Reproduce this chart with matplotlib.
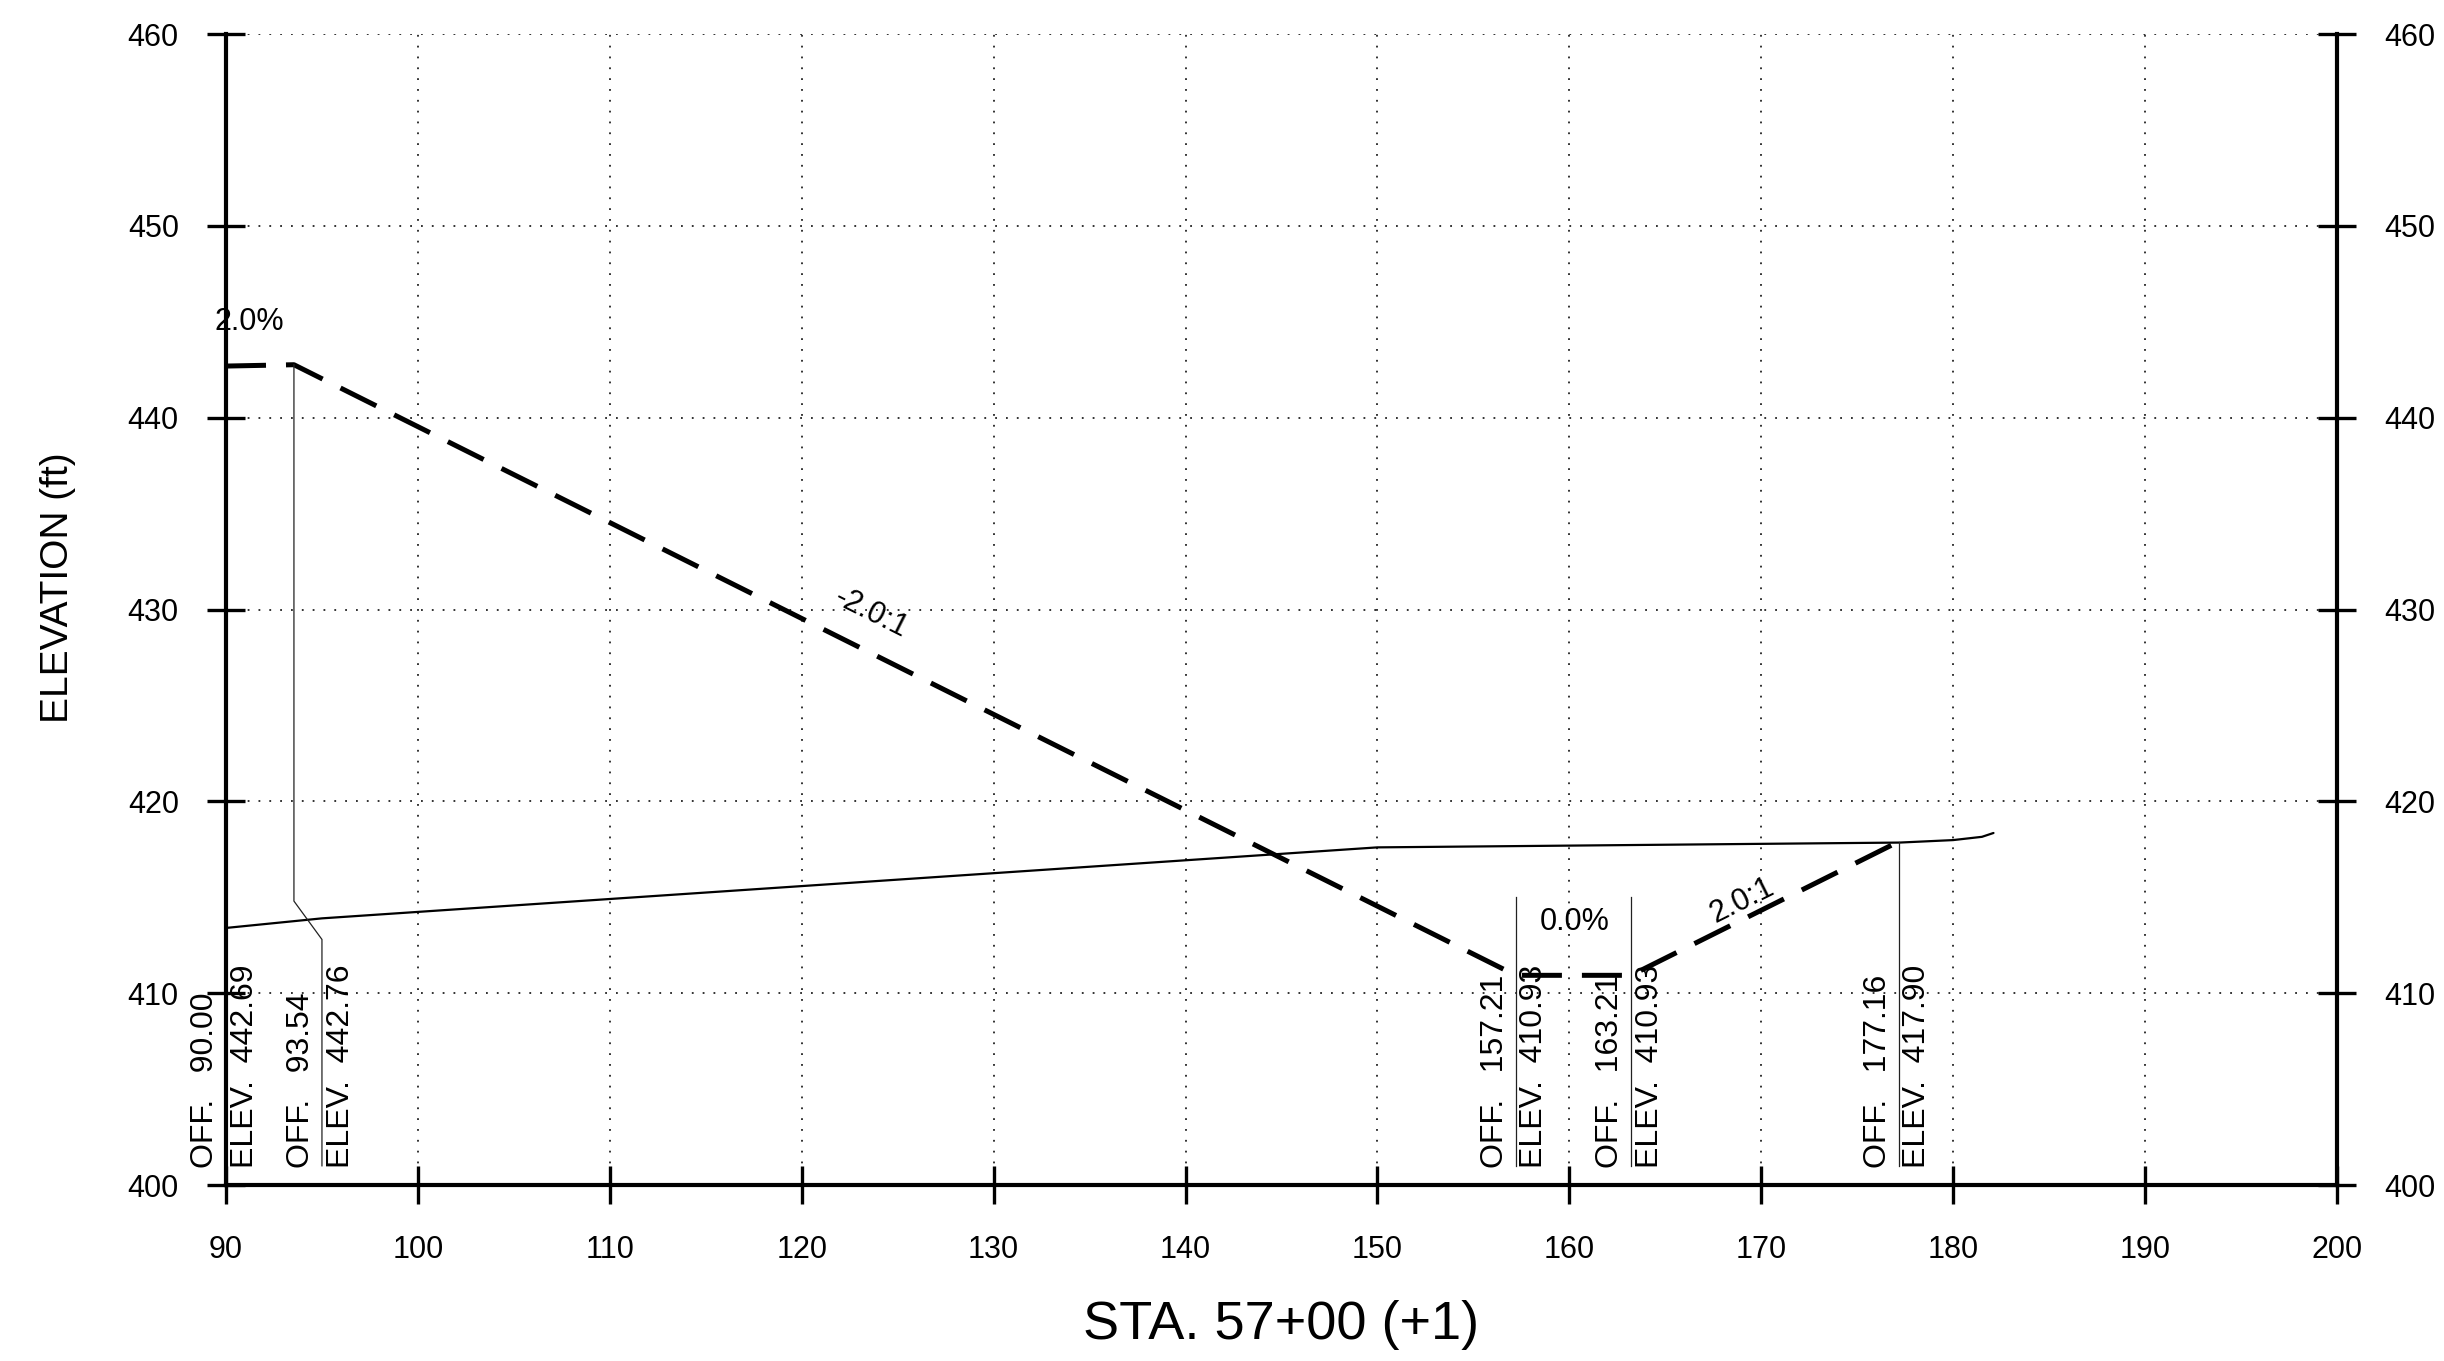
import numpy as np
import matplotlib
matplotlib.use("Agg")
import matplotlib.pyplot as plt

plt.rcParams['font.family'] = ['Liberation Sans', 'DejaVu Sans']

# Existing ground profile
ground_x = [90.0, 95.0, 150.0, 177.2, 180.0, 181.5, 182.1]
ground_y = [413.4, 413.9, 417.6, 417.85, 417.98, 418.15, 418.35]

# Proposed design section (offset, elevation)
design_off = [90.00, 93.54, 157.21, 163.21, 177.16]
design_elev = [442.69, 442.76, 410.93, 410.93, 417.90]

# Slope annotations: (text, x, y, data slope)
slope_text = ["2.0%", "-2.0:1", "0.0%", "2.0:1"]
slope_x = [91.2, 123.6, 160.3, 169.0]
slope_y = [445.0, 429.8, 413.7, 414.8]
slope_s = [0.0, -0.5, 0.0, 0.5]

xticks = list(range(90, 201, 10))
yticks = list(range(400, 461, 10))

fig = plt.figure(figsize=(24.44, 13.61), dpi=100)
ax = fig.add_axes([226/2444, 1-1185/1361, (2337-226)/2444, (1185-34)/1361])
ax.set_xlim(90, 200)
ax.set_ylim(400, 460)
ax.set_xticks(xticks)
ax.set_yticks(yticks)
ax.grid(True, color='#222222', linestyle=(0, (1, 5)), linewidth=1.3)
ax.set_axisbelow(True)

for s in ['left', 'right', 'bottom']:
    ax.spines[s].set_linewidth(3.0)
ax.spines['top'].set_visible(False)

ax.tick_params(axis='both', direction='inout', length=28, width=2.4, labelsize=22)
ax.tick_params(axis='x', pad=22)
ax.tick_params(axis='y', pad=20, right=True, labelright=True)

# ground line
ax.plot(ground_x, ground_y, color='black', linewidth=1.6, solid_capstyle='round')
# design line
ax.plot(design_off, design_elev, color='black', linewidth=3.6, linestyle=(0, (8, 4)))

# leader lines
lc = '#222222'
lw = 0.9
ax.plot([design_off[1], design_off[1], 95.0, 95.0],
        [design_elev[1], 414.8, 412.8, 401.0], color=lc, linewidth=lw)
ax.plot([design_off[2]] * 2, [415.0, 401.0], color=lc, linewidth=lw)
ax.plot([design_off[3]] * 2, [415.0, 401.0], color=lc, linewidth=lw)
ax.plot([design_off[4]] * 2, [design_elev[4], 401.0], color=lc, linewidth=lw)

label_pos = [90.0, 95.0, design_off[2], design_off[3], design_off[4]]
for xp, off, el in zip(label_pos, design_off, design_elev):
    ax.text(xp - 1.1, 400.9, f"OFF.   {off:.2f}", rotation=90, ha='center', va='bottom',
            fontsize=23)
    ax.text(xp + 0.97, 400.9, f"ELEV.  {el:.2f}", rotation=90, ha='center', va='bottom',
            fontsize=23)

for t, x, y, s in zip(slope_text, slope_x, slope_y, slope_s):
    ang = np.degrees(np.arctan(s))
    rot = ax.transData.transform_angles(np.array([ang]), np.array([[x, y]]))[0]
    ax.text(x, y, t, rotation=rot, rotation_mode='anchor', ha='center', va='center', fontsize=22)

fig.text(1281/2444, 1-1325/1361, "STA. 57+00 (+1)", ha='center', va='center', fontsize=39)
fig.text(58/2444, 1-588/1361, "ELEVATION (ft)", ha='center', va='center', rotation=90, fontsize=28)

fig.savefig("out.png", dpi=100)
